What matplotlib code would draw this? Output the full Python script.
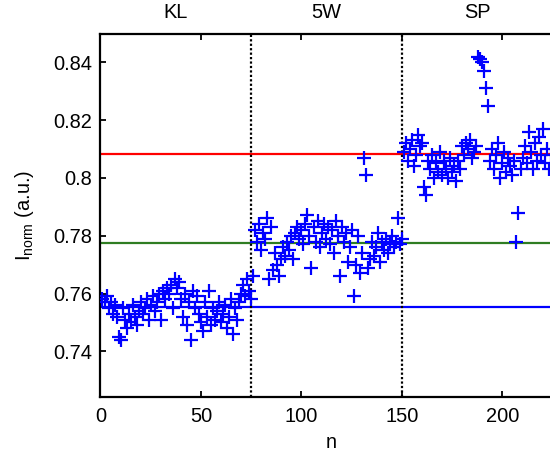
#! /usr/bin/env python3
# -*- coding: utf-8 -*-
"""
Normalised intensity per sample for the KL, 5W and SP series.
"""

import matplotlib
matplotlib.use("Agg")
import matplotlib.pyplot as plt

# values, one per sample n = 1, 2, ...
kl_values = [
    0.758, 0.757, 0.759, 0.755, 0.757, 0.753, 0.756, 0.752, 0.745, 0.744,
    0.755, 0.751, 0.748, 0.753, 0.750, 0.756, 0.752, 0.749, 0.754, 0.757,
    0.753, 0.755, 0.758, 0.751, 0.756, 0.759, 0.754, 0.757, 0.760, 0.751,
    0.761, 0.758, 0.762, 0.760, 0.763, 0.755, 0.765, 0.762, 0.764, 0.758,
    0.752, 0.760, 0.749, 0.757, 0.744, 0.761, 0.755, 0.759, 0.753, 0.750,
    0.747, 0.757, 0.752, 0.761, 0.749, 0.755, 0.751, 0.754, 0.757, 0.750,
    0.753, 0.756, 0.748, 0.752, 0.758, 0.746, 0.755, 0.751, 0.757, 0.760,
    0.763, 0.759, 0.765, 0.761, 0.758,
]
w5_values = [
    0.766, 0.782, 0.778, 0.784, 0.775, 0.781, 0.779, 0.786, 0.765, 0.783,
    0.768, 0.774, 0.770, 0.766, 0.772, 0.776, 0.773, 0.778, 0.775, 0.780,
    0.772, 0.781, 0.783, 0.779, 0.782, 0.777, 0.784, 0.787, 0.780, 0.769,
    0.783, 0.778, 0.785, 0.776, 0.781, 0.784, 0.779, 0.783, 0.777, 0.782,
    0.774, 0.785, 0.780, 0.766, 0.783, 0.778, 0.781, 0.771, 0.776, 0.782,
    0.759, 0.770, 0.780, 0.767, 0.774, 0.807, 0.801, 0.769, 0.772, 0.778,
    0.773, 0.776, 0.781, 0.771, 0.778, 0.775, 0.779, 0.774, 0.777, 0.780,
    0.776, 0.778, 0.786, 0.777, 0.779,
]
sp_values = [
    0.809, 0.812, 0.806, 0.810, 0.813, 0.804, 0.808, 0.815, 0.811, 0.812,
    0.797, 0.794, 0.806, 0.803, 0.808, 0.800, 0.805, 0.802, 0.809, 0.801,
    0.806, 0.803, 0.800, 0.807, 0.802, 0.804, 0.799, 0.806, 0.803, 0.811,
    0.808, 0.812, 0.810, 0.813, 0.807, 0.809, 0.811, 0.842, 0.841, 0.840,
    0.837, 0.831, 0.825, 0.806, 0.810, 0.803, 0.808, 0.812, 0.800, 0.805,
    0.809, 0.802, 0.807, 0.804, 0.801, 0.806, 0.778, 0.788, 0.803, 0.807,
    0.811, 0.805, 0.816, 0.809, 0.803, 0.812, 0.806, 0.814, 0.808, 0.817,
    0.805, 0.810, 0.803, 0.808,
]

# reference levels
level_values = [0.8082, 0.7775, 0.7553]
level_colors = ["#ff0000", "#2f7d22", "#0000ff"]

segment_names = ["KL", "5W", "SP"]
segment_bounds = [75, 150]

x_ticks = [0, 50, 100, 150, 200]
y_ticks = [0.74, 0.76, 0.78, 0.80, 0.82, 0.84]
y_tick_labels = ["0.74", "0.76", "0.78", "0.8", "0.82", "0.84"]

plt.rcParams["font.family"] = ["Liberation Sans", "DejaVu Sans"]
FS = 14.4

values = kl_values + w5_values + sp_values
n = list(range(1, len(values) + 1))

fig = plt.figure(figsize=(5.5, 4.57), dpi=100)
# axes run past the right edge of the figure, as in the reference
ax = fig.add_axes([0.1827, 0.1313, 0.8404, 0.7943])

for level, color in zip(level_values, level_colors):
    ax.axhline(level, color=color, lw=1.6, zorder=1)
for bound in segment_bounds:
    ax.axvline(bound, color="black", lw=1.6, ls=(0, (1, 1)), zorder=1)

ax.plot(n, values, "+", color="#0000ff", markersize=10.5, mew=1.6, zorder=3)

ax.set_xlim(0, 230)
ax.set_ylim(0.7242, 0.8498)
ax.set_xticks(x_ticks)
ax.set_yticks(y_ticks)
ax.set_yticklabels(y_tick_labels)
ax.tick_params(direction="in", length=4, width=1.3, labelsize=FS,
               top=True, right=True)
ax.tick_params(axis="x", pad=7)
ax.tick_params(axis="y", pad=6)
for spine in ax.spines.values():
    spine.set_linewidth(1.6)

ax.set_xlabel("n", fontsize=FS, labelpad=5)
ax.set_ylabel(r"I$_{\mathregular{norm}}$ (a.u.)", fontsize=FS, labelpad=12)

for i, name in enumerate(segment_names):
    ax.text(37.5 + 75 * i, 1.06, name, transform=ax.get_xaxis_transform(),
            ha="center", va="center", fontsize=FS)

fig.savefig("out.png", dpi=100)
